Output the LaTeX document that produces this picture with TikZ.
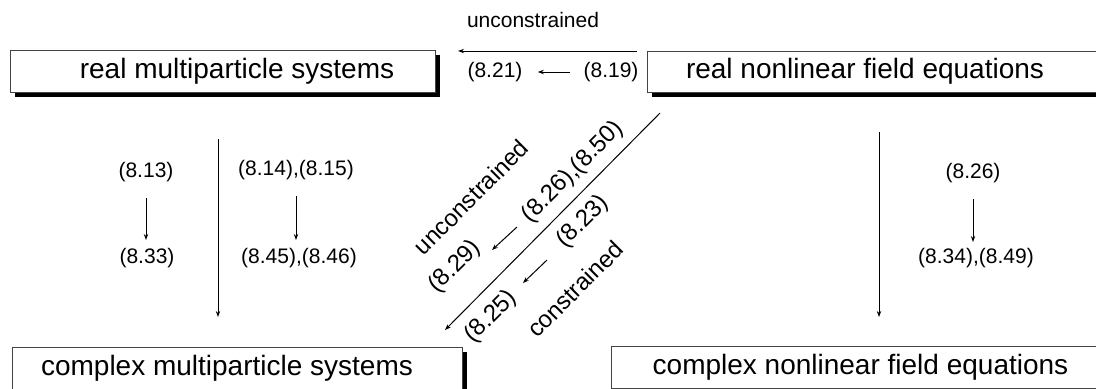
\documentclass[tikz,border=0pt]{standalone}
\usepackage{fontspec}
\setmainfont{Liberation Sans}
\usetikzlibrary{positioning,calc,arrows.meta,shadows}
\definecolor{frame}{HTML}{444444}

\tikzset{
  box/.style={draw=frame,line width=0.5pt,fill=white,rectangle,inner sep=0pt,
    font=\fontsize{14}{16}\selectfont,
    drop shadow={shadow xshift=2.5pt,shadow yshift=-2.5pt,fill=black,opacity=1}},
  eq/.style={inner sep=2pt,font=\fontsize{10.5}{12}\selectfont},
  diag/.style={inner sep=0pt,rotate=45,font=\fontsize{12}{14}\selectfont},
  link/.style={line width=0.5pt,-{Stealth[length=3pt,width=2.2pt]}},
}

\begin{document}
\begin{tikzpicture}[x=0.5pt,y=-0.5pt]
    \path[use as bounding box,clip] (0,0) rectangle (1096,388);

    % the four boxes
    \node[box,minimum width=212.5pt,minimum height=21pt] (rms) at (222.5,71) {\hspace*{14.5pt}real multiparticle systems};
    \node[box,minimum width=231.5pt,minimum height=20.5pt] (rnf) at (878.5,71.5) {real nonlinear field equations\hspace*{13.5pt}};
    \node[box,minimum width=225pt,minimum height=21pt] (cms) at (237,368) {complex multiparticle systems\hspace*{10pt}};
    \node[box,minimum width=249.5pt,minimum height=21pt] (cnf) at (860.5,367) {complex nonlinear field equations};

    % real field -> real particles
    \node[eq] (unc) at (533,20) {unconstrained};
    \node[eq] (e821) at (495,72) {(8.21)};
    \node[eq] (e819) at (611,72) {(8.19)};
    \coordinate (topR) at (637,51);
    \coordinate (topL) at (458,51);
    \draw[link] (topR) -- (topL);
    \draw[link,shorten <=4.5pt,shorten >=5.5pt] (e819) -- (e821);

    % real particles -> complex particles
    \node[eq] (e813) at (146,172) {(8.13)};
    \node[eq] (e833) at (147,258) {(8.33)};
    \node[eq] (e814) at (296,170) {(8.14),(8.15)};
    \node[eq] (e845) at (299,258) {(8.45),(8.46)};
    \draw[link,shorten <=6pt,shorten >=9pt] (e813) -- (e813 |- e833);
    \draw[link,shorten <=6pt,shorten >=9pt] (e814) -- (e814 |- e845);
    \coordinate (lefT) at (218,139);
    \coordinate (lefB) at (218,317);
    \draw[link] (lefT) -- (lefB);

    % real field -> complex field
    \node[eq] (e826) at (973,173) {(8.26)};
    \node[eq] (e834) at (976,258) {(8.34),(8.49)};
    \draw[link,shorten <=6pt,shorten >=8pt] (e826) -- (e826 |- e834);
    \coordinate (rigT) at (879,132);
    \coordinate (rigB) at (879,317);
    \draw[link] (rigT) -- (rigB);

    % real field -> complex particles
    \coordinate (diaT) at (660,113);
    \coordinate (diaB) at (445,330);
    \draw[link] (diaT) -- (diaB);
    \node[diag] (dunc) at (471,197) {unconstrained};
    \node[diag] (d826) at (573,172) {(8.26),(8.50)};
    \node[diag] (d829) at (455,267) {(8.29)};
    \node[diag] (d823) at (583,222) {(8.23)};
    \node[diag] (d825) at (491,317) {(8.25)};
    \node[diag] (dcon) at (575,289) {constrained};
    \coordinate (da1) at (517,227);
    \coordinate (da2) at (492,250);
    \coordinate (db1) at (547,260);
    \coordinate (db2) at (523,283);
    \draw[link] (da1) -- (da2);
    \draw[link] (db1) -- (db2);
\end{tikzpicture}
\end{document}
